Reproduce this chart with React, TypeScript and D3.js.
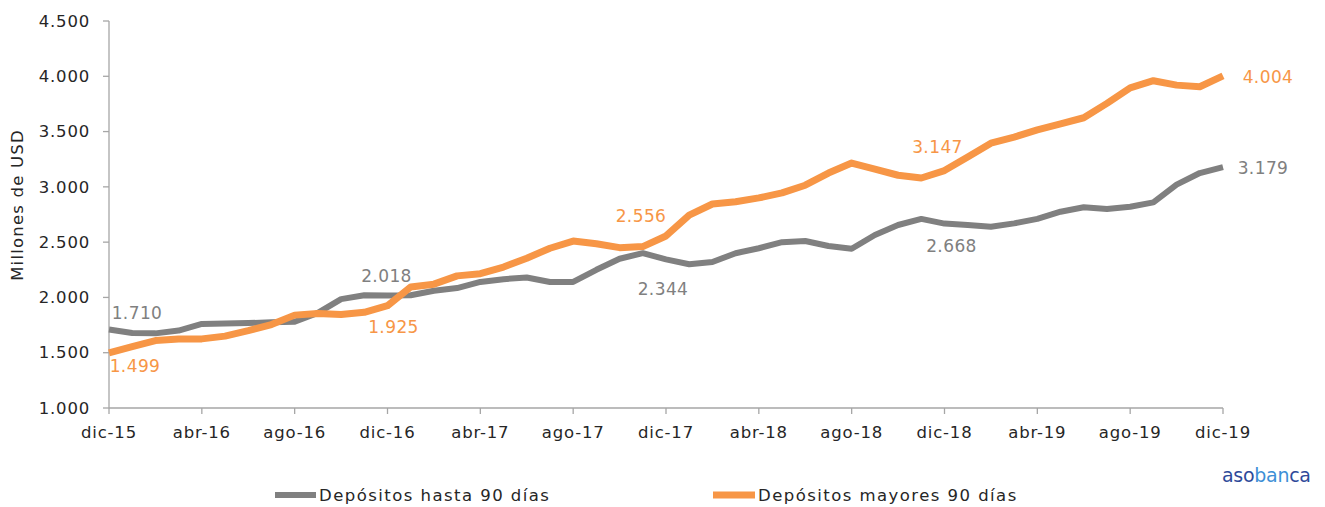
import * as d3 from "d3"
import React from "react"

// monthly data, dic-15 .. dic-19
const monthNames = ["ene", "feb", "mar", "abr", "may", "jun", "jul", "ago", "sep", "oct", "nov", "dic"]
const hasta90 = [
  1710, 1678, 1675, 1700, 1760, 1765, 1768, 1775, 1780, 1860, 1985, 2020,
  2018, 2020, 2060, 2085, 2140, 2165, 2180, 2140, 2140, 2250, 2350, 2400,
  2344, 2300, 2320, 2400, 2445, 2500, 2510, 2465, 2440, 2565, 2655, 2710,
  2668, 2655, 2640, 2670, 2710, 2775, 2815, 2800, 2820, 2860, 3020, 3125,
  3179,
]
const mayores90 = [
  1499, 1555, 1610, 1625, 1625, 1650, 1700, 1755, 1840, 1855, 1845, 1865,
  1925, 2095, 2120, 2195, 2215, 2275, 2355, 2445, 2510, 2485, 2450, 2460,
  2556, 2745, 2845, 2865, 2900, 2945, 3015, 3125, 3215, 3160, 3105, 3080,
  3147, 3270, 3395, 3450, 3515, 3570, 3625, 3755, 3895, 3960, 3920, 3905,
  4004,
]
const yTickValues = [1000, 1500, 2000, 2500, 3000, 3500, 4000, 4500]
// labelled points: [month index, dx, dy]
const grayLabels = [[0, 28, -16], [12, -1, -19], [24, -3, 30], [36, 7, 22], [48, 40, 1]]
const orangeLabels = [[0, 26, 13], [12, 6, 21], [24, -25, -20], [36, -7, -24], [48, 45, 1]]

const months = hasta90.map((_, i) => {
  const m = (11 + i) % 12
  const y = 15 + Math.floor((11 + i) / 12)
  return `${monthNames[m]}-${y}`
})

const GRAY = "#808080"
const ORANGE = "#F79646"
const TEXT = "#262626"
const fmt = (v) => d3.format(",")(v).replace(/,/g, ".")

export default function App() {
  const width = 1325
  const height = 507
  const xOff = 109
  const xEnd = 1223
  const yTop = 21
  const yBottom = 408

  const xScale = d3.scaleLinear().domain([0, months.length - 1]).range([xOff, xEnd])
  const yScale = d3.scaleLinear().domain([1000, 4500]).range([yBottom, yTop])
  const line = d3.line().x((d, i) => xScale(i)).y(d => yScale(d))

  const font = "'DejaVu Sans', sans-serif"
  const xTickIdx = months.map((_, i) => i).filter(i => i % 4 === 0)

  return (
    <svg width={width} height={height} style={{ position: "absolute", left: 0, top: 0, fontFamily: font }}>
      <rect width={width} height={height} fill="#fff" />
      {/* y axis */}
      <line x1={xOff} y1={yTop} x2={xOff} y2={yBottom} stroke="#a6a6a6" strokeWidth={1.3} />
      {yTickValues.map(v => (
        <g key={v}>
          <line x1={xOff - 6} y1={yScale(v)} x2={xOff} y2={yScale(v)} stroke="#a6a6a6" strokeWidth={1.3} />
          <text x={xOff - 19} y={yScale(v)} dy=".35em" textAnchor="end" fontSize={16.5} letterSpacing={0.8} fill={TEXT}>{fmt(v)}</text>
        </g>
      ))}
      {/* x axis */}
      <line x1={xOff} y1={yBottom} x2={xEnd} y2={yBottom} stroke="#a6a6a6" strokeWidth={1.3} />
      {xTickIdx.map(i => (
        <g key={i}>
          <line x1={xScale(i)} y1={yBottom} x2={xScale(i)} y2={yBottom + 6} stroke="#a6a6a6" strokeWidth={1.3} />
          <text x={xScale(i)} y={yBottom + 30} textAnchor="middle" fontSize={16.5} letterSpacing={0.8} fill={TEXT}>{months[i]}</text>
        </g>
      ))}
      <text transform={`translate(23,205) rotate(-90)`} textAnchor="middle" fontSize={16.5} letterSpacing={1.2} fill={TEXT}>Millones de USD</text>

      <path d={line(hasta90)} fill="none" stroke={GRAY} strokeWidth={6} strokeLinejoin="round" />
      <path d={line(mayores90)} fill="none" stroke={ORANGE} strokeWidth={7} strokeLinejoin="round" />

      {grayLabels.map(([i, dx, dy]) => (
        <text key={"g" + i} x={xScale(i) + dx} y={yScale(hasta90[i]) + dy} dy=".35em" textAnchor="middle" fontSize={17} letterSpacing={0.4} fill={GRAY}>{fmt(hasta90[i])}</text>
      ))}
      {orangeLabels.map(([i, dx, dy]) => (
        <text key={"o" + i} x={xScale(i) + dx} y={yScale(mayores90[i]) + dy} dy=".35em" textAnchor="middle" fontSize={17} letterSpacing={0.4} fill={ORANGE}>{fmt(mayores90[i])}</text>
      ))}

      {/* legend */}
      <line x1={275} y1={495} x2={316} y2={495} stroke={GRAY} strokeWidth={6} />
      <text x={319} y={495} dy=".35em" fontSize={16.5} letterSpacing={1.45} fill={TEXT}>Depósitos hasta 90 días</text>
      <line x1={713} y1={495} x2={755} y2={495} stroke={ORANGE} strokeWidth={7} />
      <text x={758} y={495} dy=".35em" fontSize={16.5} letterSpacing={1.45} fill={TEXT}>Depósitos mayores 90 días</text>

      {/* logo */}
      <text x={1222} y={482} fontSize={19} letterSpacing={-0.3}>
        <tspan fill="#2E4A9A">aso</tspan><tspan fill="#3D8FD6">ban</tspan><tspan fill="#2E4A9A">ca</tspan>
      </text>
    </svg>
  )
}
